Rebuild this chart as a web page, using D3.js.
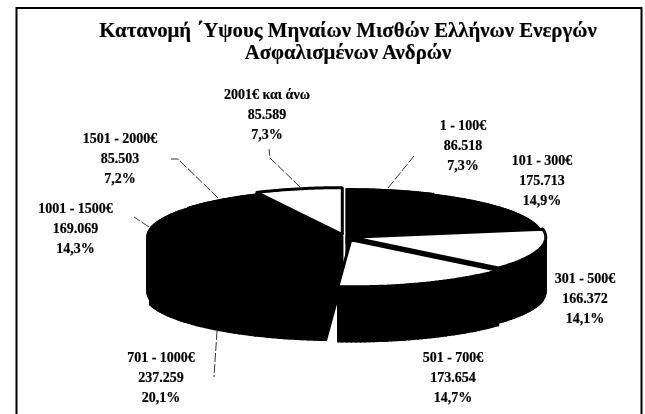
<!DOCTYPE html>
<html>
<head>
<meta charset="utf-8">
<script src="https://cdnjs.cloudflare.com/ajax/libs/d3/7.8.5/d3.min.js"></script>
<style>
body { margin: 0; background: #fff; }
svg { display: block; filter: blur(0.4px); }
text { font-family: "Liberation Serif", serif; font-weight: bold; fill: #000; stroke: #000; stroke-width: 0.2; text-anchor: middle; }
</style>
</head>
<body>
<div id="chart"></div>
<script>
// data
var categories = ["1 - 100€", "101 - 300€", "301 - 500€", "501 - 700€", "701 - 1000€", "1001 - 1500€", "1501 - 2000€", "2001€ και άνω"];
var counts = [86518, 175713, 166372, 173654, 237259, 169069, 85503, 85589];
var percents = [7.3, 14.9, 14.1, 14.7, 20.1, 14.3, 7.2, 7.3];
var titleLines = ["Κατανομή ΄Υψους Μηναίων Μισθών Ελλήνων Ενεργών", "Ασφαλισμένων Ανδρών"];

// layout, kept apart from the values
var sliceFill = ["#000", "#000", "#fff", "#fff", "#000", "#000", "#000", "#fff"];
var explode = [6, 3, 6, 15, 9, 3, 4, 12];
var labelPos = [[463, 130], [542, 165], [585, 283], [453, 362], [161, 362], [75.5, 213], [120, 143], [267, 99]];
var leaders = [
    [[388, 188], [414, 156]],
    [[149, 227], [134, 217]],
    [[218, 198], [178, 159], [171, 159]],
    [[300, 187], [270, 158], [269, 149]],
    [[217, 331], [214, 377]]
];

var width = 645, height = 414;
var cx = 345, cy = 237, rx = 195, ry = 47, depth = 55;

var svg = d3.select("#chart").append("svg")
    .attr("width", width)
    .attr("height", height);

var line = d3.line();

// the frame runs off the bottom of the scan
svg.append("path")
    .attr("d", line([[16.5, height], [16.5, 8], [641.5, 8], [641.5, height]]))
    .attr("fill", "none").attr("stroke", "#000").attr("stroke-width", 2);

svg.selectAll(".title")
    .data(titleLines)
    .enter().append("text")
    .attr("class", "title")
    .attr("x", 348)
    .attr("y", function(d, i) { return 37 + i * 22; })
    .style("font-size", "20.8px")
    .text(function(d) { return d; });

var pie = d3.pie().sort(null).value(function(d) { return d; });
var arcs = pie(counts);

// flat pie seen from above: angle + radius to screen
function slicePoints(d, i) {
    var mid = (d.startAngle + d.endAngle) / 2;
    var ox = cx + explode[i] * Math.sin(mid),
        oy = cy - explode[i] * Math.cos(mid) * 0.2;
    var pts = [[ox, oy]];
    d3.range(0, 41).forEach(function(k) {
        var a = d.startAngle + (d.endAngle - d.startAngle) * k / 40;
        pts.push([ox + rx * Math.sin(a), oy - ry * Math.cos(a)]);
    });
    return pts;
}

// back slices first so the front ones cover them
var order = d3.range(arcs.length).sort(function(a, b) {
    return slicePoints(arcs[a], a)[21][1] - slicePoints(arcs[b], b)[21][1];
});

order.forEach(function(i) {
    var pts = slicePoints(arcs[i], i);
    var g = svg.append("g").attr("class", "slice");

    // the wall: each edge of the slice swept down by the depth
    pts.forEach(function(p, k) {
        var q = pts[(k + 1) % pts.length];
        g.append("path")
            .attr("d", line([p, q, [q[0], q[1] + depth], [p[0], p[1] + depth]]) + "Z")
            .attr("fill", "#000")
            .attr("stroke", "#000")
            .attr("stroke-width", 1.5);
    });

    g.append("path")
        .attr("d", line(pts) + "Z")
        .attr("fill", sliceFill[i])
        .attr("stroke", "#000")
        .attr("stroke-width", sliceFill[i] == "#fff" ? 3 : 0.5)
        .attr("stroke-linejoin", "bevel");
});

svg.selectAll(".leader")
    .data(leaders)
    .enter().append("path")
    .attr("class", "leader")
    .attr("d", line)
    .attr("fill", "none")
    .attr("stroke", "#000")
    .attr("stroke-width", 0.8)
    .attr("stroke-dasharray", "9 2");

var greek = d3.formatLocale({decimal: ",", thousands: ".", grouping: [3], currency: ["", "€"]});
var fmtCount = greek.format(",d"), fmtPct = greek.format(".1f");

var labels = svg.selectAll(".label")
    .data(categories)
    .enter().append("g")
    .attr("class", "label")
    .attr("transform", function(d, i) { return "translate(" + labelPos[i] + ")"; });

labels.each(function(d, i) {
    var rows = [d, fmtCount(counts[i]), fmtPct(percents[i]) + "%"];
    d3.select(this).selectAll("text")
        .data(rows)
        .enter().append("text")
        .attr("y", function(r, k) { return k * 20; })
        .style("font-size", "14px")
        .text(function(r) { return r; });
});
</script>
</body>
</html>
